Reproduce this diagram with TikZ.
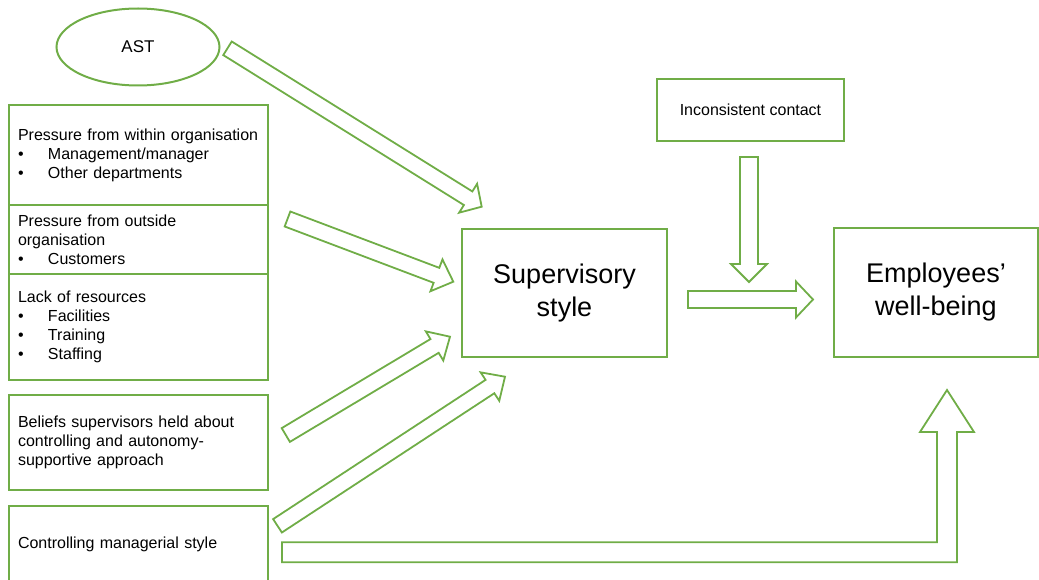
\documentclass[tikz,border=0pt]{standalone}
\usepackage{fontspec}
\setmainfont{Liberation Sans}
\usetikzlibrary{shapes.geometric,calc}
\definecolor{leaf}{RGB}{112,173,71}
\newcommand{\bul}{\makebox[30pt][l]{\textbullet}}
%白抜きの矢印 {尾}{先}{軸の半幅}{頭の半幅}{頭の長さ}
\newcommand{\fatarrow}[5]{%
  \coordinate(hb)at($(#2)!#5!(#1)$);
  \draw[flow]($(#1)!#3!-90:(#2)$)--($(hb)!#3!90:(#1)$)--($(hb)!#4!90:(#1)$)--(#2)
    --($(hb)!#4!-90:(#1)$)--($(hb)!#3!-90:(#1)$)--($(#1)!#3!90:(#2)$)--cycle;}
\begin{document}
\begin{tikzpicture}[x=1pt,y=-1pt,
    box/.style={draw=leaf,line width=2pt,inner sep=0pt,font=\fontsize{16}{19}\selectfont},
    lbox/.style={box,minimum width=259pt,text width=241pt,inner xsep=9pt,align=left},
    bigbox/.style={box,align=center,font=\fontsize{27}{33}\selectfont},
    flow/.style={draw=leaf,line width=1.8pt}]
  \useasboundingbox(0,0)rectangle(1039,580);
  \node[box,ellipse,minimum width=163pt,minimum height=77pt,font=\fontsize{17}{20}\selectfont](ast)at(138,47){AST};
  \node[lbox,minimum height=100pt](within)at(138.5,155){Pressure from within organisation\\\bul Management/manager\\\bul Other departments};
  \node[lbox,minimum height=69pt](outside)at(138.5,239.5){Pressure from outside\\organisation\\\bul Customers};
  \node[lbox,minimum height=106pt](lack)at(138.5,327){Lack of resources\\\bul Facilities\\\bul Training\\\bul Staffing};
  \node[lbox,minimum height=95pt](beliefs)at(138.5,442.5){Beliefs supervisors held about\\controlling and autonomy-\\supportive approach};
  \node[lbox,minimum height=76pt](ctrl)at(138.5,544){Controlling managerial style};
  \node[bigbox,minimum width=205pt,minimum height=128pt](sup)at(564.5,293){Supervisory\\style};
  \node[bigbox,minimum width=204pt,minimum height=129pt](emp)at(936,292.5){Employees’\\well-being};
  \node[box,minimum width=187pt,minimum height=62pt](inc)at(750.5,110){Inconsistent contact};
  %矢印の端
  \coordinate(astT)at(227.5,48.3);\coordinate(astH)at(481.7,206.7);
  \coordinate(outT)at(287.5,219);\coordinate(outH)at(453.3,281.7);
  \coordinate(belT)at(285.8,435);\coordinate(belH)at(450,336.7);
  \coordinate(ctlT)at(277.5,525.8);\coordinate(ctlH)at(505,376.7);
  \coordinate(supT)at(688,299.5);\coordinate(supH)at(813,299.5);
  \coordinate(incT)at(749,157);\coordinate(incH)at(749,282);
  \fatarrow{astT}{astH}{8pt}{17pt}{16pt}
  \fatarrow{outT}{outH}{8pt}{17pt}{18pt}
  \fatarrow{belT}{belH}{8pt}{17pt}{18pt}
  \fatarrow{ctlT}{ctlH}{8pt}{17pt}{18pt}
  \fatarrow{supT}{supH}{8.5pt}{18pt}{17pt}
  \fatarrow{incT}{incH}{9pt}{18pt}{18pt}
  %折れ曲がった矢印
  \coordinate(bendT)at(282,552.3);\coordinate(bendC)at(947,552.3);\coordinate(bendH)at(947,390);
  \draw[flow]($(bendT)+(0,-10)$)--($(bendC)+(-10,-10)$)--($(bendH)+(-10,42)$)--($(bendH)+(-27,42)$)--(bendH)
    --($(bendH)+(27,42)$)--($(bendH)+(10,42)$)--($(bendC)+(10,10)$)--($(bendT)+(0,10)$)--cycle;
\end{tikzpicture}
\end{document}
